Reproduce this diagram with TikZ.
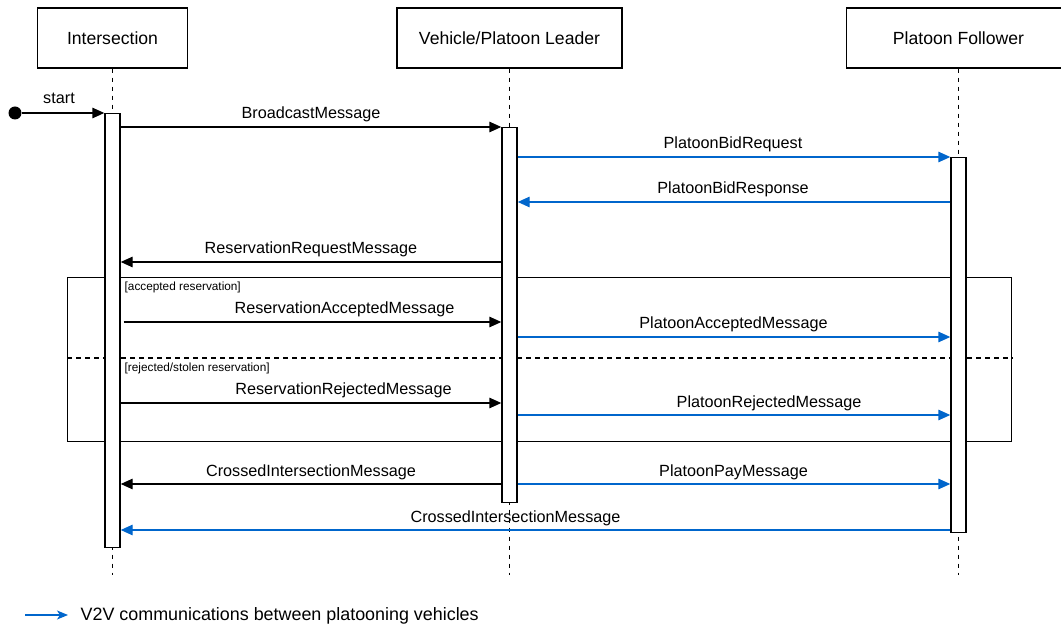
\documentclass[tikz,border=0pt]{standalone}
\usepackage{fontspec}
\setmainfont{Liberation Sans}
\usetikzlibrary{arrows.meta}
\definecolor{vblue}{HTML}{0066CC}
\newcommand\headfont{\fontsize{17.6pt}{21pt}\selectfont}
\newcommand\legfont{\fontsize{17.9pt}{21pt}\selectfont}
\newcommand\msgfont{\fontsize{16.2pt}{19pt}\selectfont}
\newcommand\guardfont{\fontsize{11.8pt}{14pt}\selectfont}
\begin{document}
\begin{tikzpicture}[x=1pt, y=-1pt, line width=1.4pt,
  head/.style={draw, fill=white, minimum height=60pt, inner sep=0, font=\headfont},
  bar/.style={draw, fill=white, minimum width=15pt, inner sep=0, anchor=north},
  life/.style={dash pattern=on 4.5pt off 4.5pt},
  msg/.style={-{Triangle[length=12pt,width=10.5pt]}},
  v2v/.style={msg, color=vblue},
  lbl/.style={anchor=base, font=\msgfont, inner sep=0},
  guard/.style={anchor=base west, font=\guardfont, inner sep=0}]
\useasboundingbox (0,0) rectangle (1061,628);

% participants
\node[head, minimum width=150pt] (hI) at (112.5,38) {Intersection};
\node[head, minimum width=225pt] (hL) at (509.5,38) {Vehicle/Platoon Leader};
\node[head, minimum width=224pt] (hF) at (958.5,38) {Platoon Follower};

% lifelines
\coordinate (eI) at (112.5,575);
\coordinate (eL) at (509.5,575);
\coordinate (eF) at (958.5,575);
\draw[life] (hI.south) -- (eI);
\draw[life] (hL.south) -- (eL);
\draw[life] (hF.south) -- (eF);

% alt fragment
\node[draw, anchor=north west, minimum width=944pt, minimum height=164pt, inner sep=0] (alt) at (67,277) {};
\draw[life] (alt.west |- 0,358) -- (alt.east |- 0,358);
\node[guard] (g1) at (124,291) {[accepted reservation]};
\node[guard] (g2) at (124,372) {[rejected/stolen reservation]};

% activations
\node[bar, minimum height=434pt] (bI) at (112.5,113) {};
\node[bar, minimum height=375pt] (bL) at (509.5,127) {};
\node[bar, minimum height=375pt] (bF) at (958.5,157) {};

% start
\node[circle, fill, inner sep=0, minimum size=13pt] (s0) at (15,113) {};
\draw[msg] (s0) -- (bI.west |- 0,113);
\node[lbl] at (59,104) {start};

% messages
\draw[msg] (bI.east |- 0,127) -- (bL.west |- 0,127);
\node[lbl] at (311,119) {BroadcastMessage};

\draw[v2v] (bL.east |- 0,157) -- (bF.west |- 0,157);
\node[lbl] at (733,149) {PlatoonBidRequest};

\draw[v2v] (bF.west |- 0,202) -- (bL.east |- 0,202);
\node[lbl] at (733,194) {PlatoonBidResponse};

\draw[msg] (bL.west |- 0,262) -- (bI.east |- 0,262);
\node[lbl] at (311,254) {ReservationRequestMessage};

\draw[msg] ([xshift=3pt]bI.east |- 0,322) -- (bL.west |- 0,322);
\node[lbl] at (344.5,314) {ReservationAcceptedMessage};

\draw[v2v] (bL.east |- 0,337) -- (bF.west |- 0,337);
\node[lbl] at (733.5,329) {PlatoonAcceptedMessage};

\draw[msg] (bI.east |- 0,403) -- (bL.west |- 0,403);
\node[lbl] at (343.5,395) {ReservationRejectedMessage};

\draw[v2v] (bL.east |- 0,415) -- (bF.west |- 0,415);
\node[lbl] at (769,407) {PlatoonRejectedMessage};

\draw[msg] (bL.west |- 0,484) -- (bI.east |- 0,484);
\node[lbl] at (311,476) {CrossedIntersectionMessage};

\draw[v2v] (bL.east |- 0,484) -- (bF.west |- 0,484);
\node[lbl] at (733.5,476) {PlatoonPayMessage};

\draw[v2v] (bF.west |- 0,530) -- (bI.east |- 0,530);
\node[lbl] at (515.5,522) {CrossedIntersectionMessage};

% legend
\coordinate (la) at (25,615);
\coordinate (lb) at (68,615);
\draw[vblue, -{Stealth[length=11pt,width=9pt,inset=3pt]}] (la) -- (lb);
\node[anchor=base west, font=\legfont, inner sep=0] (leg) at (80,620) {V2V communications between platooning vehicles};
\end{tikzpicture}
\end{document}
